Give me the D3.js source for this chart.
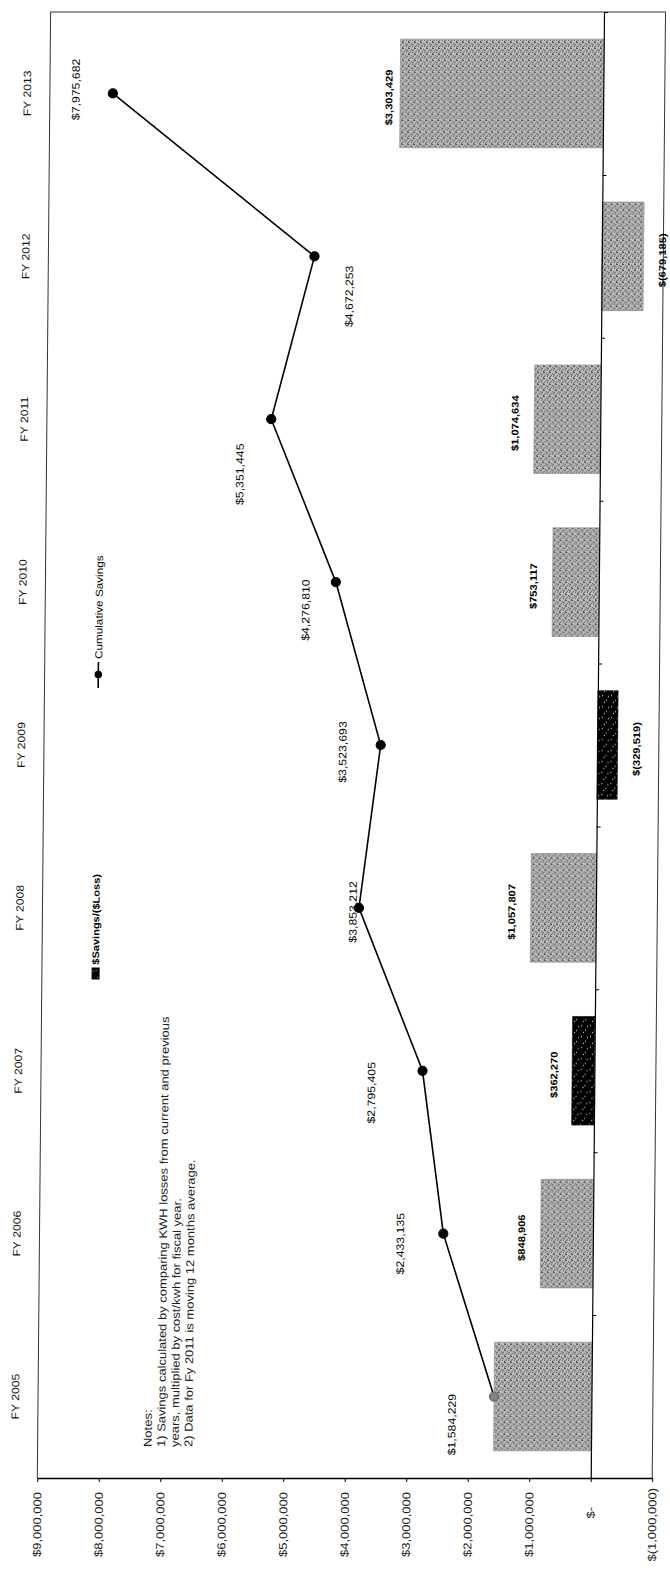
<!DOCTYPE html>
<html><head><meta charset="utf-8">
<script src="https://cdn.jsdelivr.net/npm/d3@7"></script>
<style>body{margin:0;background:#fff} svg{display:block}</style>
</head><body>
<svg id="c" width="670" height="1574"></svg>
<script>
// ---------------- data ----------------
const categories = ["FY 2005","FY 2006","FY 2007","FY 2008","FY 2009","FY 2010","FY 2011","FY 2012","FY 2013"];
const annualSavings = [1584229, 848906, 362270, 1057807, -329519, 753117, 1074634, -679185, 3303429];
const cumulativeSavings = [1584229, 2433135, 2795405, 3853212, 3523693, 4276810, 5351445, 4672253, 7975682];
const valueTicks = [9000000, 8000000, 7000000, 6000000, 5000000, 4000000, 3000000, 2000000, 1000000, 0, -1000000];
const seriesNames = ["$Savings/($Loss)", "Cumulative Savings"];
const notes = [
  "Notes:",
  "1) Savings calculated by comparing KWH losses from current and previous",
  "years, multiplied by cost/kwh for fiscal year.",
  "2) Data for Fy 2011 is moving 12 months average."
];

// ---------------- layout / style ----------------
const darkBarCats = new Set(["FY 2007", "FY 2009"]);
const grayMarkerCats = new Set(["FY 2005"]);
// per-point label nudges (px, screen) for cumulative labels
const lineLabelNudge = [[-42,28],[-43,10],[-51,22],[-6,4],[-38,7],[-30,28],[-31,55],[35,40],[-37,-4]];
// distance of bar labels from bar end (px)
const barLabelGap = [19,19,18,19,19,19,19,19,11];
const STRETCH = 1.15;
const FONT = "'Liberation Sans', Arial, sans-serif";
const PLOT = {left: 37.3, right: 652.2, top: 12, bottom: 1478};

const svg = d3.select("#c");
const defs = svg.append("defs");
// gray dithered fill
const pg = defs.append("pattern").attr("id","pg").attr("width",6).attr("height",6).attr("patternUnits","userSpaceOnUse");
pg.append("rect").attr("width",6).attr("height",6).attr("fill","#bdbdbd");
[[0,0],[2,1],[4,2],[1,3],[3,4],[5,5],[5,0],[3,2],[0,4]].forEach(([a,b]) => pg.append("rect").attr("x",a).attr("y",b).attr("width",1).attr("height",1).attr("fill","#4a4a4a"));
// black speckled fill
const pb = defs.append("pattern").attr("id","pb").attr("width",9).attr("height",11).attr("patternUnits","userSpaceOnUse");
pb.append("rect").attr("width",9).attr("height",11).attr("fill","#000");
[[1,2],[5,7],[7,3],[3,9]].forEach(([a,b]) => pb.append("rect").attr("x",a).attr("y",b).attr("width",1).attr("height",1).attr("fill","#fff"));

// slight scan shear
const root = svg.append("g").attr("transform", `translate(0,${PLOT.bottom}) skewX(-0.52) translate(0,${-PLOT.bottom})`);

const x = d3.scaleLinear().domain([9000000, -1000000]).range([PLOT.left, PLOT.right]);
const y = d3.scaleBand().domain(categories).range([PLOT.bottom, PLOT.top]).paddingInner(1/3).paddingOuter(1/6);
const yc = c => y(c) + y.bandwidth()/2;

function vtext(g, px, py, str, o = {}) {
  return g.append("text")
    .attr("transform", `translate(${px},${py}) rotate(-90) scale(${STRETCH},1)`)
    .attr("text-anchor", o.anchor || "middle")
    .attr("dominant-baseline", "central")
    .attr("font-family", FONT)
    .attr("font-size", o.size || 10)
    .attr("font-weight", o.weight || "normal")
    .attr("fill", o.fill || "#000")
    .text(str);
}

// plot border (left, top, right)
root.append("path")
  .attr("d", `M${PLOT.left},${PLOT.bottom}V${PLOT.top}H${PLOT.right}V${PLOT.bottom}`)
  .attr("fill","none").attr("stroke","#333").attr("stroke-width",1);

// bars
const fmt = d3.format(",");
const money = v => v < 0 ? `$(${fmt(-v)})` : `$${fmt(v)}`;
root.append("g").selectAll("rect").data(categories).join("rect")
  .attr("x", (c,i) => Math.min(x(annualSavings[i]), x(0)))
  .attr("width", (c,i) => Math.abs(x(annualSavings[i]) - x(0)))
  .attr("y", c => y(c))
  .attr("height", y.bandwidth())
  .attr("fill", c => darkBarCats.has(c) ? "url(#pb)" : "url(#pg)")
  .attr("stroke", c => darkBarCats.has(c) ? "#000" : "#888")
  .attr("stroke-width", 0.6);

// value axis (bottom)
const xAxis = d3.axisBottom(x).tickValues(valueTicks).tickSize(4).tickSizeOuter(0).tickFormat(v => v === 0 ? "$-" : money(v));
const gx = root.append("g").attr("transform", `translate(0,${PLOT.bottom})`).call(xAxis);
gx.select(".domain").attr("stroke","#000").attr("stroke-width",1.5);
gx.selectAll(".tick line").attr("stroke","#000");
gx.selectAll(".tick text")
  .attr("x", null).attr("y", null).attr("dy", null)
  .attr("transform", v => `translate(0,${v > 0 ? 14 : v < 0 ? 10 : 29}) rotate(-90) scale(${STRETCH},1)`)
  .attr("text-anchor", "end").attr("dominant-baseline","central")
  .attr("font-family", FONT).attr("font-size", 11.3).attr("fill","#222");

// category axis at zero with ticks between categories
const yEdge = d3.scaleLinear().domain([0, categories.length]).range([PLOT.bottom, PLOT.top]);
const gy = root.append("g").attr("transform", `translate(${x(0)},0)`)
  .call(d3.axisRight(yEdge).tickValues(d3.range(categories.length + 1)).tickSize(4).tickSizeOuter(0).tickFormat(""));
gy.select(".domain").attr("stroke","#000").attr("stroke-width",1.2);
gy.selectAll(".tick line").attr("stroke","#000");

// category labels (high position)
const gc = root.append("g");
categories.forEach(c => vtext(gc, 14.6, yc(c), c, {size: 10.6, fill: "#111"}));

// bar labels (outside end)
const gbl = root.append("g");
categories.forEach((c, i) => {
  if (i === 0) return; // coincides with the cumulative label in the original
  const v = annualSavings[i];
  const px = x(v) + (v < 0 ? barLabelGap[i] : -barLabelGap[i]);
  vtext(gbl, px, yc(c) + 4, money(v), {size: 9.7, weight: "bold"});
});

// cumulative line
const line = d3.line().x((d,i) => x(d)).y((d,i) => yc(categories[i]));
root.append("path").datum(cumulativeSavings).attr("d", line)
  .attr("fill","none").attr("stroke","#000").attr("stroke-width",1.6);
root.append("g").selectAll("circle").data(categories).join("circle")
  .attr("cx", (c,i) => x(cumulativeSavings[i]))
  .attr("cy", c => yc(c))
  .attr("r", 4.6)
  .attr("fill", c => grayMarkerCats.has(c) ? "#808080" : "#000")
  .attr("stroke", c => grayMarkerCats.has(c) ? "#666" : "#000");

// cumulative labels
const gll = root.append("g");
categories.forEach((c, i) => {
  const [dx, dy] = lineLabelNudge[i];
  vtext(gll, x(cumulativeSavings[i]) + dx, yc(c) + dy, money(cumulativeSavings[i]), {size: 10.7});
});

// legend
const gl = root.append("g");
gl.append("rect").attr("x", 87.5).attr("y", 968).attr("width", 7).attr("height", 11).attr("fill", "url(#pb)").attr("stroke","#000");
vtext(gl, 91, 874, seriesNames[0], {size: 9.6, anchor: "end", weight: "bold"});
gl.append("line").attr("x1", 91).attr("x2", 91).attr("y1", 688).attr("y2", 662).attr("stroke","#000").attr("stroke-width",1.6);
gl.append("circle").attr("cx", 91).attr("cy", 674.5).attr("r", 3.8).attr("fill","#000");
vtext(gl, 91, 659, seriesNames[1], {size: 10.2, anchor: "start"});

// notes
const gn = root.append("g");
notes.forEach((t, i) => vtext(gn, 147.5 + i * 13.6, 1447, t, {size: 11.3, anchor: "start", fill: "#222"}));
</script>
</body></html>
